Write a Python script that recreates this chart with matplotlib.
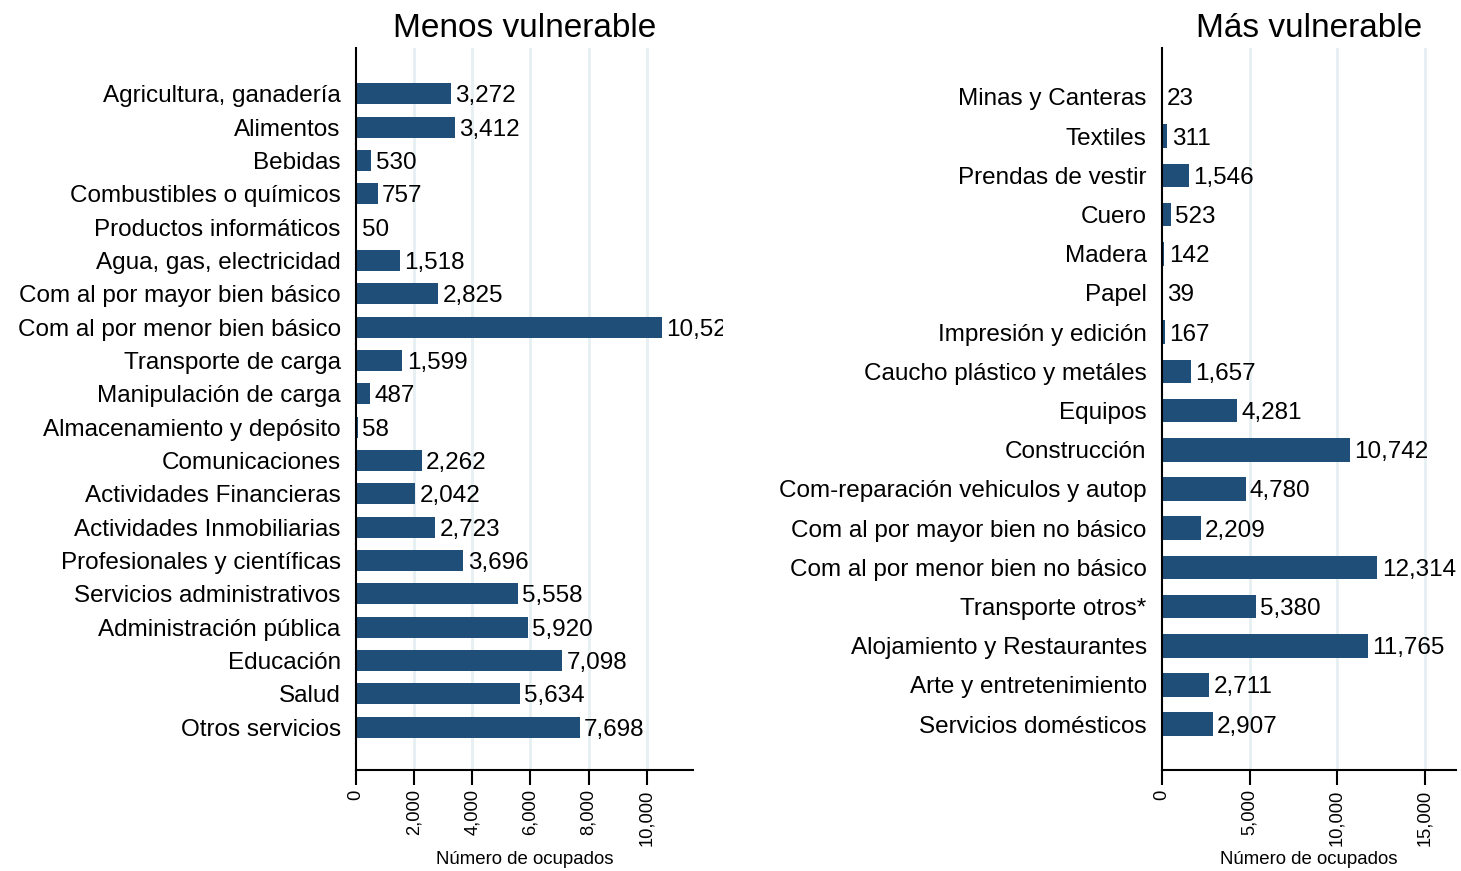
import matplotlib
matplotlib.use("Agg")
import matplotlib.pyplot as plt
from matplotlib.transforms import Bbox, TransformedBbox

plt.rcParams['font.family'] = ['Liberation Sans', 'DejaVu Sans']

# Menos vulnerable
cats_menos = ["Agricultura, ganadería", "Alimentos", "Bebidas", "Combustibles o químicos",
              "Productos informáticos", "Agua, gas, electricidad", "Com al por mayor bien básico",
              "Com al por menor bien básico", "Transporte de carga", "Manipulación de carga",
              "Almacenamiento y depósito", "Comunicaciones", "Actividades Financieras",
              "Actividades Inmobiliarias", "Profesionales y científicas", "Servicios administrativos",
              "Administración pública", "Educación", "Salud", "Otros servicios"]
vals_menos = [3272, 3412, 530, 757, 50, 1518, 2825, 10524, 1599, 487,
              58, 2262, 2042, 2723, 3696, 5558, 5920, 7098, 5634, 7698]

# Más vulnerable
cats_mas = ["Minas y Canteras", "Textiles", "Prendas de vestir", "Cuero", "Madera", "Papel",
            "Impresión y edición", "Caucho plástico y metáles", "Equipos", "Construcción",
            "Com-reparación vehiculos y autop", "Com al por mayor bien no básico",
            "Com al por menor bien no básico", "Transporte otros*", "Alojamiento y Restaurantes",
            "Arte y entretenimiento", "Servicios domésticos"]
vals_mas = [23, 311, 1546, 523, 142, 39, 167, 1657, 4281, 10742,
            4780, 2209, 12314, 5380, 11765, 2711, 2907]

bar_color = '#1f4e78'
grid_color = '#e6eff2'

W, H = 1461, 871
fig = plt.figure(figsize=(W / 100, H / 100), dpi=100)


def panel(rect, cats, vals, title, xticks, xmax, ylim, height, clip_px=None):
    ax = fig.add_axes(rect)
    y = list(range(len(cats)))
    ax.barh(y, vals, height=height, color=bar_color, edgecolor='none', zorder=2)
    ax.set_ylim(*ylim)
    ax.set_xlim(0, xmax)
    ax.set_yticks(y)
    ax.set_yticklabels(cats, fontsize=17.5)
    ax.tick_params(axis='y', length=0, pad=11)
    ax.set_xticks(xticks)
    ax.set_xticklabels([f"{t:,}" for t in xticks], rotation=90, fontsize=13.2)
    ax.tick_params(axis='x', length=11, width=1.5, pad=3)
    for t in xticks[1:]:
        ax.axvline(t, color=grid_color, lw=2, zorder=1)
    for s in ['top', 'right']:
        ax.spines[s].set_visible(False)
    for s in ['left', 'bottom']:
        ax.spines[s].set_linewidth(1.5)
    ax.set_xlabel("Número de ocupados", fontsize=13.4, labelpad=4)
    ax.set_title(title, fontsize=24, pad=8)
    for yi, v in zip(y, vals):
        txt = ax.annotate(f"{v:,}", (v, yi), xytext=(3, 0), textcoords='offset points',
                          va='center_baseline', ha='left', fontsize=17.5, annotation_clip=False)
        if clip_px is not None:
            txt.set_clip_box(TransformedBbox(Bbox([[0, 0], [clip_px / W, 1]]), fig.transFigure))
            txt.set_clip_on(True)
    return ax


bottom = 1 - 770 / H
top = 1 - 48 / H

panel([356 / W, bottom, (693 - 356) / W, top - bottom], cats_menos, vals_menos,
      "Menos vulnerable", [0, 2000, 4000, 6000, 8000, 10000], 11590,
      (20.29, -1.38), 0.63, clip_px=723)

panel([1162 / W, bottom, (1456 - 1162) / W, top - bottom], cats_mas, vals_mas,
      "Más vulnerable", [0, 5000, 10000, 15000], 16800,
      (17.17, -1.25), 0.6)

fig.savefig("out.png", dpi=100)
